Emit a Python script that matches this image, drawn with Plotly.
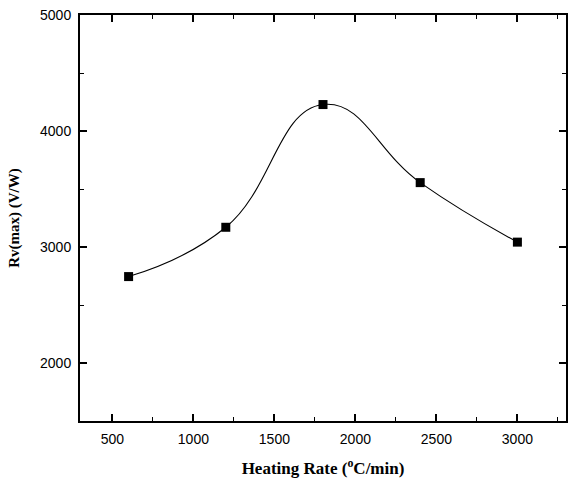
import plotly.graph_objects as go

heating_rate = [600, 1200, 1800, 2400, 3000]
rv_max = [2745, 3170, 4228, 3555, 3042]

x_ticks = [500, 1000, 1500, 2000, 2500, 3000]
y_ticks = [2000, 3000, 4000, 5000]

fig = go.Figure()
fig.add_trace(go.Scatter(
    x=heating_rate, y=rv_max,
    mode="lines+markers",
    line=dict(shape="spline", smoothing=1.3, color="black", width=1.1),
    marker=dict(symbol="square", size=9, color="black"),
    showlegend=False,
))

axis_common = dict(
    showgrid=False, zeroline=False, automargin=False,
    showline=True, linecolor="black", linewidth=2,
    mirror="allticks",
    ticks="inside", ticklen=7, tickwidth=1.5, tickcolor="black",
    tickfont=dict(family="Liberation Sans, Arial", size=14, color="black"),
)

fig.update_xaxes(
    range=[300, 3300], tickvals=x_ticks, ticklabelstandoff=4,
    minor=dict(ticks="inside", ticklen=4, tickwidth=1.2, tickcolor="black", dtick=250, tick0=0),
    title=dict(text="<b>Heating Rate (<sup>o</sup>C/min)</b>",
               font=dict(family="Liberation Serif, Times New Roman", size=17, color="black"),
               standoff=16),
    **axis_common,
)
fig.update_yaxes(
    range=[1500, 5000], tickvals=y_ticks, ticklabelstandoff=4,
    minor=dict(ticks="inside", ticklen=4, tickwidth=1.2, tickcolor="black", dtick=500, tick0=0),
    title=dict(text="<b>Rv(max) (V/W)</b>",
               font=dict(family="Liberation Serif, Times New Roman", size=15, color="black"),
               standoff=17),
    **axis_common,
)

fig.update_layout(
    width=568, height=484,
    margin=dict(l=80, r=2, t=15, b=63),
    plot_bgcolor="white", paper_bgcolor="white",
)

post = ("document.body.style.margin='0';document.body.style.overflow='hidden';"
        "var gd=document.getElementById('{plot_id}');"
        "Plotly.relayout(gd,{width:568,height:484});")
fig.write_html("out.html", post_script=post, config={"displayModeBar": False})
